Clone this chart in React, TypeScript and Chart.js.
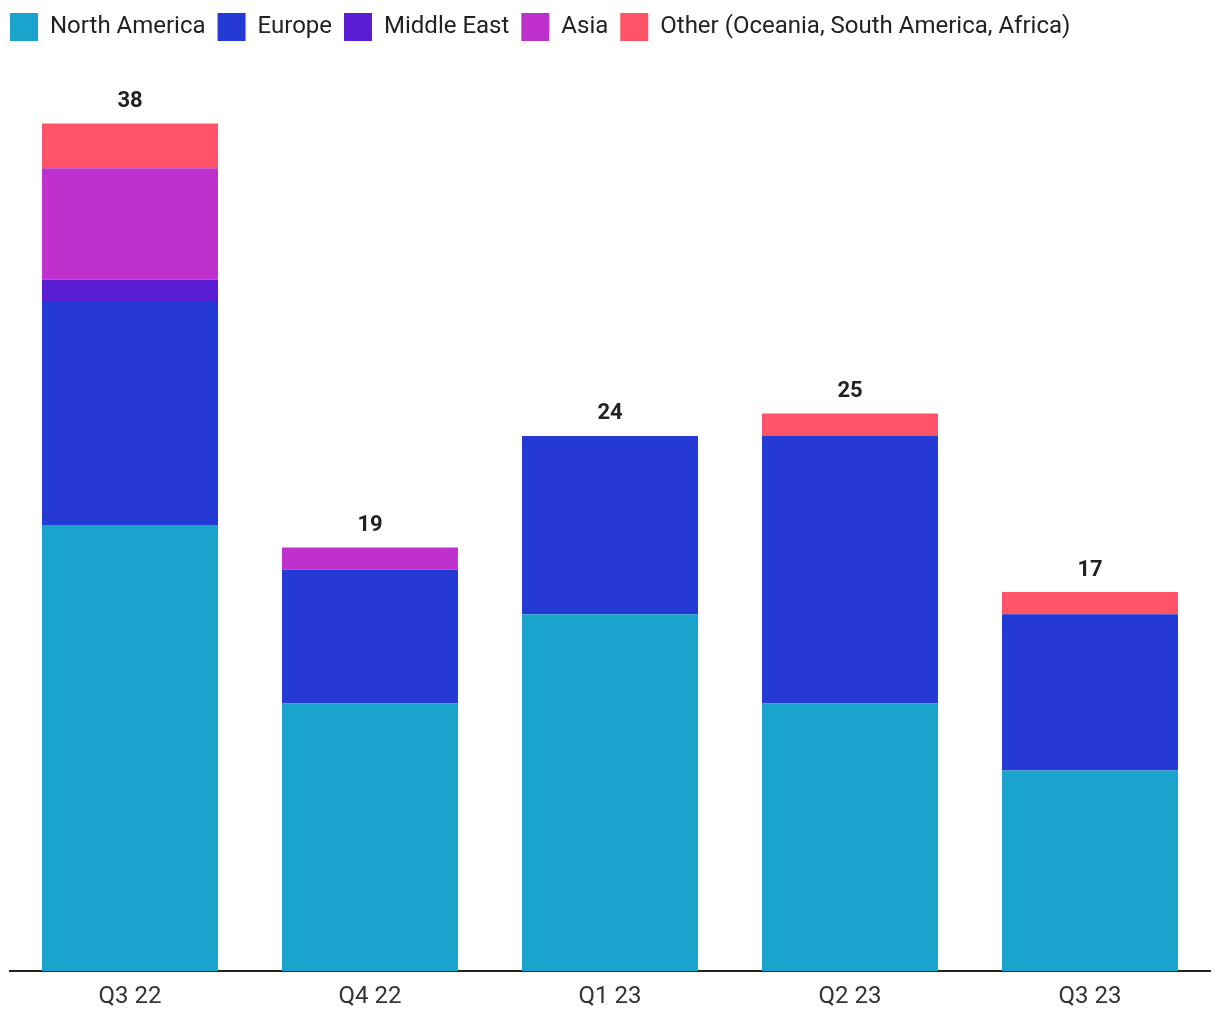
import React, { useEffect, useRef } from "react";
import { Chart, registerables } from "chart.js";

Chart.register(...registerables);

const categories = ["Q3 22", "Q4 22", "Q1 23", "Q2 23", "Q3 23"];
const northAmerica = [20, 12, 16, 12, 9];
const europe = [10, 6, 8, 12, 7];
const middleEast = [1, 0, 0, 0, 0];
const asia = [5, 1, 0, 0, 0];
const other = [2, 0, 0, 1, 1];

const seriesNames = [
  "North America",
  "Europe",
  "Middle East",
  "Asia",
  "Other (Oceania, South America, Africa)",
];
const seriesColors = ["#1aa3cd", "#2539d4", "#5a1dd3", "#be31cc", "#ff5468"];
const seriesValues = [northAmerica, europe, middleEast, asia, other];

const FONT = "Roboto, 'Noto Sans', sans-serif";

const legendMargin = {
  id: "legendMargin",
  beforeInit(chart: any) {
    const legend = chart.legend;
    if (!legend) return;
    const orig = legend.fit;
    legend.fit = function () {
      orig.bind(legend)();
      this.height += 32;
    };
  },
  afterLayout(chart: any) {
    const legend = chart.legend;
    if (!legend) return;
    legend.left -= 12;
    legend.right -= 12;
    legend.top += 4;
    legend.bottom += 4;
  },
};

const totalsPlugin = {
  id: "totals",
  afterDatasetsDraw(chart: any) {
    const ctx = chart.ctx;
    const n = chart.data.labels.length;
    ctx.save();
    ctx.font = `bold 22px ${FONT}`;
    ctx.fillStyle = "#222222";
    ctx.textAlign = "center";
    ctx.textBaseline = "middle";
    const meta = chart.getDatasetMeta(0);
    for (let i = 0; i < n; i++) {
      let total = 0;
      chart.data.datasets.forEach((ds: any) => {
        total += ds.data[i] || 0;
      });
      const x = meta.data[i].x;
      const y = chart.scales.y.getPixelForValue(total);
      ctx.fillText(String(total), x, y - 22);
    }
    ctx.restore();
  },
};

export default function App() {
  const ref = useRef<HTMLCanvasElement | null>(null);
  useEffect(() => {
    if (!ref.current) return;
    const chart = new Chart(ref.current, {
      type: "bar",
      data: {
        labels: categories,
        datasets: seriesNames.map((name, k) => ({
          label: name,
          data: seriesValues[k],
          backgroundColor: seriesColors[k],
          borderWidth: 0,
          barPercentage: 176 / 240,
          categoryPercentage: 1,
        })),
      },
      options: {
        animation: false,
        responsive: false,
        maintainAspectRatio: false,
        layout: { padding: { left: 15, right: 10, top: 0, bottom: -2 } },
        plugins: {
          legend: {
            position: "top",
            align: "start",
            labels: {
              boxWidth: 28,
              boxHeight: 28,
              padding: 12,
              color: "#222222",
              font: { family: FONT, size: 24 },
            },
          },
          tooltip: { enabled: false },
        },
        scales: {
          x: {
            stacked: true,
            grid: { display: false, drawTicks: false },
            border: { display: true, color: "#222222", width: 2 },
            ticks: {
              color: "#333333",
              padding: 13.4,
              font: { family: FONT, size: 24, lineHeight: 1 },
            },
          },
          y: {
            stacked: true,
            display: false,
            min: 0,
            max: 40,
          },
        },
      },
      plugins: [legendMargin, totalsPlugin],
    });
    return () => chart.destroy();
  }, []);
  return (
    <div style={{ position: "absolute", left: -5, top: -3, width: 1225, height: 1023 }}>
      <canvas ref={ref} width={1225} height={1023} style={{ display: "block" }} />
    </div>
  );
}
